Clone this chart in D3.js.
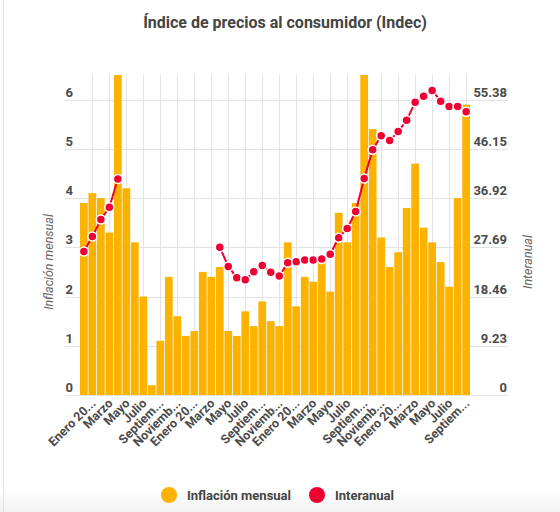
<!DOCTYPE html>
<html lang="es">
<head>
<meta charset="utf-8">
<title>Índice de precios al consumidor (Indec)</title>
<script src="https://d3js.org/d3.v7.min.js"></script>
<style>
  * { margin:0; padding:0; box-sizing:border-box; }
  body { background:#fff; font-family:Roboto, 'Noto Sans', sans-serif; }
  svg { display:block; }
  .grid line { stroke:#e3e3e3; stroke-width:1; shape-rendering:crispEdges; }
  .tick-label { font-weight:700; font-size:13px; fill:#4a4a4a; }
  .x-label { font-weight:700; font-size:12.5px; fill:#4a4a4a; }
  .axis-title { font-style:italic; font-size:12.5px; fill:#666; }
  .title { font-weight:700; font-size:16px; fill:#444; }
  .legend text { font-weight:700; font-size:13px; fill:#444; }
</style>
</head>
<body>
<svg id="chart" width="560" height="512"></svg>
<script>
// ─── Data ───
const categories = [
  'Diciembre 2015',
  'Enero 2016', 'Febrero', 'Marzo', 'Abril', 'Mayo', 'Junio', 'Julio', 'Agosto', 'Septiembre', 'Octubre', 'Noviembre', 'Diciembre',
  'Enero 2017', 'Febrero', 'Marzo', 'Abril', 'Mayo', 'Junio', 'Julio', 'Agosto', 'Septiembre', 'Octubre', 'Noviembre', 'Diciembre',
  'Enero 2018', 'Febrero', 'Marzo', 'Abril', 'Mayo', 'Junio', 'Julio', 'Agosto', 'Septiembre', 'Octubre', 'Noviembre', 'Diciembre',
  'Enero 2019', 'Febrero', 'Marzo', 'Abril', 'Mayo', 'Junio', 'Julio', 'Agosto', 'Septiembre'
];
const mensual = [
  3.9,
  4.1, 4.0, 3.3, 6.5, 4.2, 3.1, 2.0, 0.2, 1.1, 2.4, 1.6, 1.2,
  1.3, 2.5, 2.4, 2.6, 1.3, 1.2, 1.7, 1.4, 1.9, 1.5, 1.4, 3.1,
  1.8, 2.4, 2.3, 2.7, 2.1, 3.7, 3.1, 3.9, 6.5, 5.4, 3.2, 2.6,
  2.9, 3.8, 4.7, 3.4, 3.1, 2.7, 2.2, 4.0, 5.9
];
const interanual = [
  26.9,
  29.7, 32.9, 35.2, 40.5, null, null, null, null, null, null, null, null,
  null, null, null, 27.7, 24.1, 22.0, 21.6, 23.1, 24.3, 23.0, 22.3, 24.8,
  25.0, 25.3, 25.3, 25.5, 26.4, 29.5, 31.2, 34.4, 40.6, 46.0, 48.6, 47.7,
  49.4, 51.5, 54.9, 56.0, 57.1, 55.1, 54.1, 54.1, 53.1
];
const leftTicks = [0, 1, 2, 3, 4, 5, 6];
const rightTicks = [0, 9.23, 18.46, 27.69, 36.92, 46.15, 55.38];
const seriesNames = ['Inflación mensual', 'Interanual'];

const BAR = '#FBB300';
const RED = '#EE0033';

// ─── Layout ───
const svg = d3.select('#chart');
const plot = { left: 80, right: 470, top: 75, bottom: 395 };

const x = d3.scaleBand()
  .domain(d3.range(categories.length))
  .range([plot.left, plot.right])
  .paddingInner(0.09)
  .paddingOuter(0);
const yL = d3.scaleLinear().domain([0, 6.5]).range([plot.bottom, plot.top]);
const yR = d3.scaleLinear().domain([0, 60]).range([plot.bottom, plot.top]);
const cx = i => x(i) + x.bandwidth() / 2;

// bottom shade + left border
const defs = svg.append('defs');
const grad = defs.append('linearGradient').attr('id', 'shade').attr('x1', 0).attr('x2', 0).attr('y1', 0).attr('y2', 1);
grad.append('stop').attr('offset', 0).attr('stop-color', '#fff');
grad.append('stop').attr('offset', 1).attr('stop-color', '#f1f1f1');
svg.append('rect').attr('x', 0).attr('y', 490).attr('width', 560).attr('height', 22).attr('fill', 'url(#shade)');
svg.append('line').attr('x1', 3.5).attr('x2', 3.5).attr('y1', 0).attr('y2', 512)
  .attr('stroke', '#e2e2e2');

// title
svg.append('text').attr('class', 'title')
  .attr('x', 285).attr('y', 28).attr('text-anchor', 'middle')
  .text('Índice de precios al consumidor (Indec)');

// grid
const labelled = d3.range(1, categories.length, 2);
const grid = svg.append('g').attr('class', 'grid');
grid.selectAll('line.v').data(labelled).join('line').attr('class', 'v')
  .attr('x1', d => Math.round(cx(d)) + 0.5).attr('x2', d => Math.round(cx(d)) + 0.5)
  .attr('y1', plot.top).attr('y2', plot.bottom);
grid.selectAll('line.h').data(leftTicks).join('line').attr('class', 'h')
  .attr('x1', 65).attr('x2', 508)
  .attr('y1', d => Math.round(yL(d)) + 0.5).attr('y2', d => Math.round(yL(d)) + 0.5);

// tick labels
svg.append('g').selectAll('text').data(leftTicks).join('text')
  .attr('class', 'tick-label').attr('text-anchor', 'end')
  .attr('x', 73).attr('y', d => yL(d) - 3).text(d => d);
svg.append('g').selectAll('text').data(rightTicks).join('text')
  .attr('class', 'tick-label').attr('text-anchor', 'end')
  .attr('x', 507).attr('y', d => yR(d) - 3).text(d => d);

// axis titles
svg.append('text').attr('class', 'axis-title').attr('text-anchor', 'middle')
  .attr('transform', 'translate(53,262) rotate(-90)').text(seriesNames[0]);
svg.append('text').attr('class', 'axis-title').attr('text-anchor', 'middle')
  .attr('transform', 'translate(532,262) rotate(-90)').text(seriesNames[1]);

// bars
svg.append('g').selectAll('rect').data(mensual).join('rect')
  .attr('x', (d, i) => x(i)).attr('width', x.bandwidth())
  .attr('y', d => yL(Math.min(d, 6.5))).attr('height', d => plot.bottom - yL(Math.min(d, 6.5)))
  .attr('fill', BAR);

// x labels: long names cut to the longest prefix that fits, then "..."
const fullMax = 56, prefixMax = 51;
const xl = svg.append('g').selectAll('text').data(labelled).join('text')
  .attr('class', 'x-label').attr('text-anchor', 'end')
  .attr('transform', d => `translate(${cx(d) + 1},${plot.bottom + 6}) rotate(-45)`)
  .attr('dy', '0.35em')
  .text(d => categories[d]);
xl.each(function(d) {
  const s = categories[d];
  if (this.getComputedTextLength() <= fullMax) return;
  let n = s.length;
  while (n > 1 && this.getSubStringLength(0, n) > prefixMax) n--;
  d3.select(this).text(s.slice(0, n) + '...');
});

// interanual line
const line = d3.line()
  .defined(d => d != null)
  .x((d, i) => cx(i)).y(d => yR(d));
svg.append('path').datum(interanual)
  .attr('fill', 'none').attr('stroke', RED).attr('stroke-width', 2)
  .attr('d', line);
svg.append('g').selectAll('circle')
  .data(interanual.map((v, i) => ({ v, i })).filter(d => d.v != null))
  .join('circle')
  .attr('cx', d => cx(d.i)).attr('cy', d => yR(d.v)).attr('r', 4.5)
  .attr('fill', RED).attr('stroke', '#fff').attr('stroke-width', 1.5);

// legend
const legend = svg.append('g').attr('class', 'legend');
const items = [
  { name: seriesNames[0], color: BAR, x: 169 },
  { name: seriesNames[1], color: RED, x: 317 }
];
const li = legend.selectAll('g').data(items).join('g')
  .attr('transform', d => `translate(${d.x},495)`);
li.append('circle').attr('r', 8).attr('fill', d => d.color);
li.append('text').attr('x', 18).attr('y', 5).text(d => d.name);
</script>
</body>
</html>
